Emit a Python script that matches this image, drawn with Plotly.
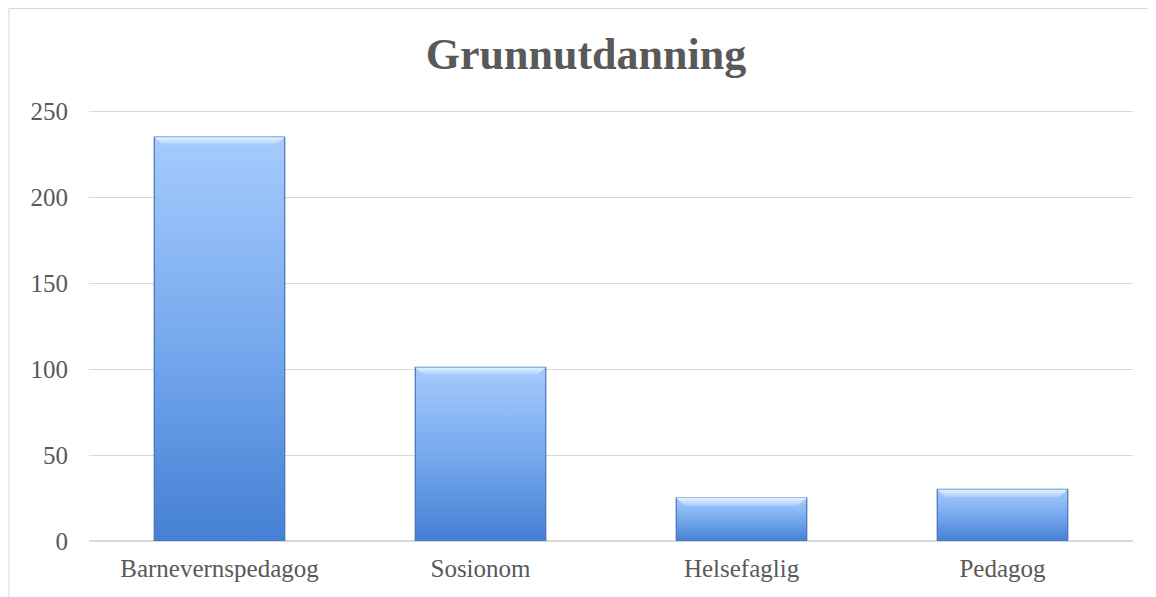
import plotly.graph_objects as go

# Data
categories = ["Barnevernspedagog", "Sosionom", "Helsefaglig", "Pedagog"]
values = [235, 101, 25, 30]
y_ticks = [0, 50, 100, 150, 200, 250]

bar_half = 0.25      # half bar width in category units
bevel_h = 4.5        # bevel height in data units
bevel_in = 0.035     # bevel inset in category units

fig = go.Figure()

for i, v in enumerate(values):
    # main body with vertical gradient
    fig.add_trace(go.Scatter(
        x=[i - bar_half, i + bar_half, i + bar_half, i - bar_half, i - bar_half],
        y=[0, 0, v, v, 0],
        mode='lines', fill='toself',
        fillgradient=dict(type='vertical',
                          colorscale=[[0, '#4580d4'], [0.5, '#77a9ee'], [1, '#a6cbfd']]),
        line=dict(color='#4673b3', width=1.2),
        hoverinfo='skip', showlegend=False))
    # top bevel highlight
    fig.add_trace(go.Scatter(
        x=[i - bar_half, i + bar_half, i + bar_half - bevel_in, i - bar_half + bevel_in, i - bar_half],
        y=[v, v, v - bevel_h, v - bevel_h, v],
        mode='lines', fill='toself',
        fillgradient=dict(type='vertical',
                          colorscale=[[0, '#a8cdfd'], [1, '#e4f4ff']]),
        line=dict(width=0),
        hoverinfo='skip', showlegend=False))

# page body has an 8px margin, so the figure is sized to the visible area
fig.update_layout(
    width=1148, height=589,
    paper_bgcolor='white', plot_bgcolor='white',
    margin=dict(l=81, r=23, t=100, b=56),
    font=dict(family='Liberation Serif', color='#595959'),
    title=dict(text='Grunnutdanning', x=(586 - 8) / 1148, xref='container', xanchor='center',
               y=1 - 46 / 589, yref='container', yanchor='middle',
               font=dict(family='Liberation Serif', size=44, color='#595959', weight='bold')),
    xaxis=dict(range=[-0.5, 3.5], tickvals=list(range(len(categories))), ticktext=categories,
               showgrid=False, zeroline=False, showline=False, ticks='',
               tickfont=dict(size=25, color='#595959'), ticklabelstandoff=10),
    yaxis=dict(range=[0, 252], tickvals=y_ticks, showgrid=True, gridcolor='#d9d9d9', gridwidth=1,
               zeroline=True, zerolinecolor='#d9d9d9', zerolinewidth=1.5, showline=False,
               ticks='', tickfont=dict(size=25, color='#595959'), ticklabelstandoff=20),
    shapes=[dict(type='rect', xref='paper', yref='paper',
                 x0=(1 - 81) / 1044, x1=1.2, y0=-0.3, y1=(533 - 0.5) / 433 * 1.0 - 0.0,
                 line=dict(color='#d9d9d9', width=1), layer='below')],
)

fig.write_html("out.html")
